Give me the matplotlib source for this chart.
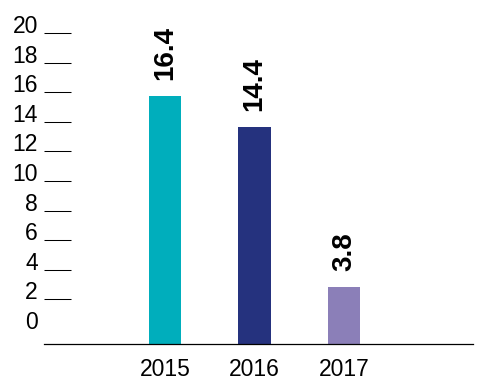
import matplotlib
matplotlib.use("Agg")
import matplotlib.pyplot as plt

years = ["2015", "2016", "2017"]
values = [16.4, 14.4, 3.8]
colors = ["#00AEBC", "#25327E", "#8B7FB8"]
ytick_labels = [0, 2, 4, 6, 8, 10, 12, 14, 16, 18, 20]

plt.rcParams['font.family'] = ['Liberation Sans', 'DejaVu Sans']

W, H = 486, 387
fig = plt.figure(figsize=(W / 100, H / 100), dpi=100)
left, right, base = 44, 473, 344
ax = fig.add_axes([left / W, (H - base) / H, (right - left) / W, base / H])

px_per_unit = 15.1
x = list(range(len(years)))
ax.bar(x, values, width=0.36, color=colors)
for xi, v in zip(x, values):
    ax.annotate(f"{v}", (xi, v), xytext=(0, 11.5), textcoords="offset points",
                rotation=90, ha="center", va="bottom", fontsize=20, fontweight="bold")

# Tick positions (the original's axis labels are offset from the bar scale)
tick_pos = [(15 + 14.8 * k) / px_per_unit for k in ytick_labels]
ax.set_yticks(tick_pos)
ax.set_yticklabels([str(k) for k in ytick_labels])
for lab in ax.get_yticklabels():
    lab.set_va("baseline")
ax.yaxis.get_major_ticks()[0].tick1line.set_visible(False)
ax.tick_params(axis="y", direction="in", length=19.5, width=0.75, pad=4.5,
               labelsize=16.5, color="black")

ax.set_xticks(x)
ax.set_xticklabels(years)
ax.tick_params(axis="x", length=0, pad=10, labelsize=16.5)

ax.set_xlim((left - 165) / 89.5, (right - 165) / 89.5)
ax.set_ylim(0, base / px_per_unit)

for s in ["top", "right", "left"]:
    ax.spines[s].set_visible(False)
ax.spines["bottom"].set_linewidth(0.9)
ax.patch.set_visible(False)

fig.savefig("out.png", dpi=100)
